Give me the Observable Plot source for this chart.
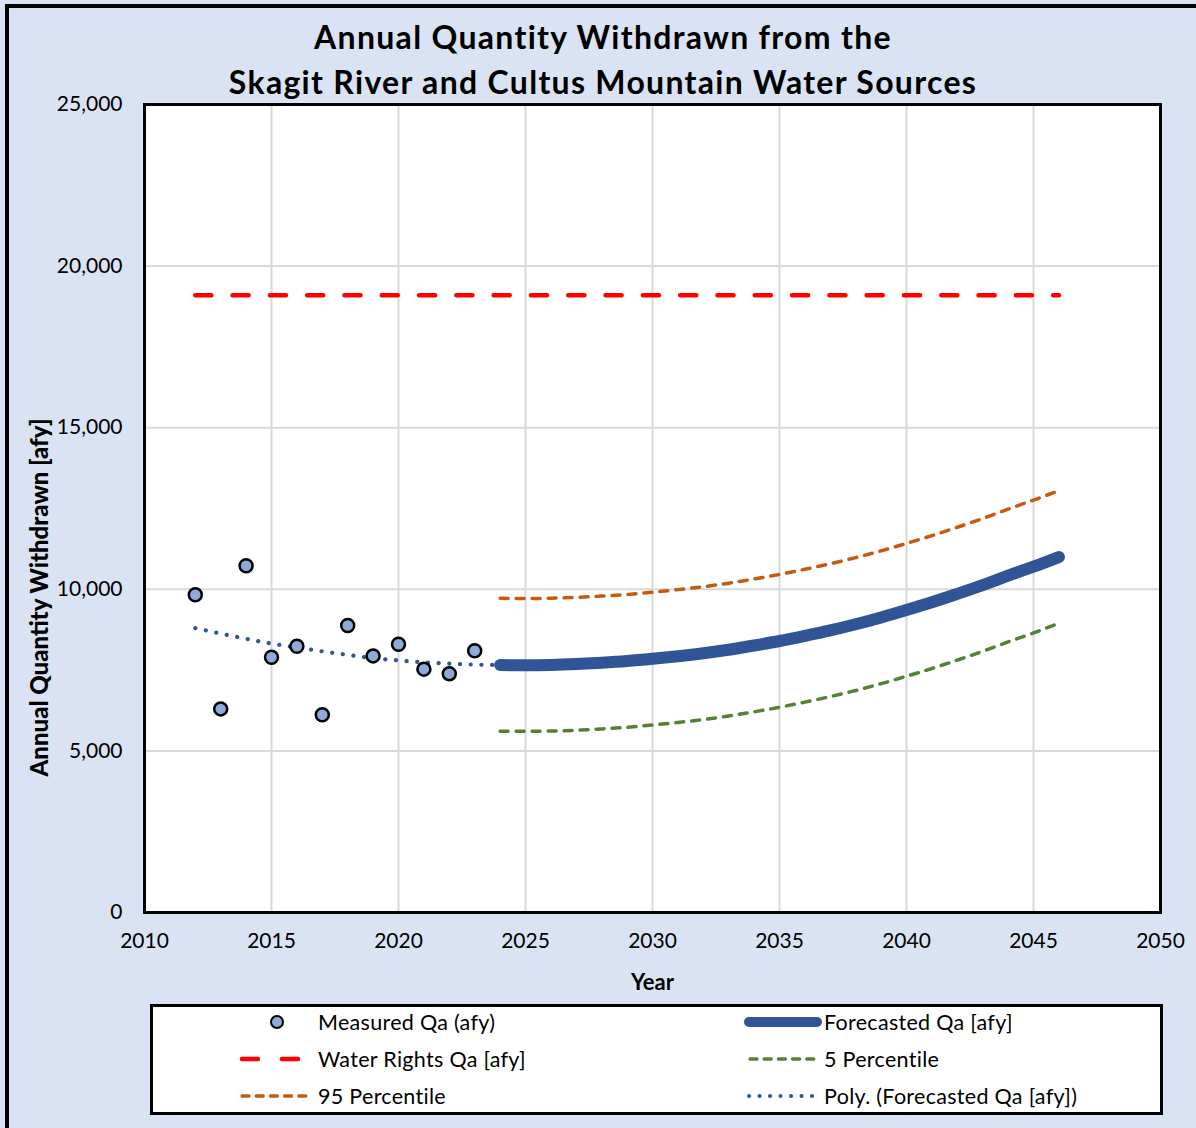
<!DOCTYPE html>
<html><head><meta charset="utf-8">
<script src="https://cdn.jsdelivr.net/npm/d3@7"></script>
<script src="https://cdn.jsdelivr.net/npm/@observablehq/plot@0.6"></script>
<style>
body{margin:0;background:#fff;}
#page{position:relative;width:1196px;height:1128px;background:#dae3f3;overflow:hidden;font-family:Lato,"Open Sans",sans-serif;color:#000;}
#edge{position:absolute;left:5px;top:4px;right:-10px;bottom:-10px;border-left:4px solid #000;border-top:4px solid #000;pointer-events:none}
#title{position:absolute;left:10px;right:0;top:14px;text-align:center;font-weight:bold;font-size:32px;letter-spacing:1.3px;line-height:45px;}
#chart{position:absolute;left:0;top:74px}
#legend{position:absolute;left:150px;top:1004px;width:1013px;height:111px;box-sizing:border-box;border:3px solid #000;background:#fff}
.li{position:absolute;height:30px;display:flex;align-items:center;font-size:21.5px;letter-spacing:0.3px;white-space:nowrap}
.li svg{flex:none}
</style>
</head><body>
<div id="page">
  <div id="title">Annual Quantity Withdrawn from the<br>Skagit River and Cultus Mountain Water Sources</div>
  <div id="chart"></div>
  <div id="legend"></div>
  <div id="edge"></div>
</div>
<script>
// ---- data ----
const measuredYears = [2012, 2013, 2014, 2015, 2016, 2017, 2018, 2019, 2020, 2021, 2022, 2023];
const measuredQa    = [9830, 6300, 10730, 7900, 8240, 6120, 8880, 7940, 8300, 7530, 7390, 8100];

const polyYears = [2012, 2013, 2014, 2015, 2016, 2017, 2018, 2019, 2020, 2021, 2022, 2023, 2024];
const polyQa    = [8800, 8630, 8470, 8320, 8200, 8080, 7970, 7870, 7800, 7740, 7700, 7670, 7655];

const forecastYears = [2024, 2025, 2026, 2027, 2028, 2029, 2030, 2031, 2032, 2033, 2034, 2035, 2036, 2037, 2038, 2039, 2040, 2041, 2042, 2043, 2044, 2045, 2046];
const forecastQa    = [7655, 7650, 7660, 7690, 7730, 7780, 7850, 7930, 8020, 8130, 8260, 8400, 8560, 8730, 8920, 9130, 9360, 9600, 9860, 10130, 10420, 10700, 11000];
const p95Qa         = [9720, 9715, 9725, 9750, 9790, 9840, 9910, 9990, 10080, 10190, 10320, 10460, 10620, 10790, 10980, 11190, 11420, 11660, 11920, 12190, 12480, 12760, 13050];
const p5Qa          = [5610, 5605, 5615, 5640, 5680, 5730, 5800, 5880, 5970, 6080, 6210, 6350, 6510, 6680, 6870, 7080, 7310, 7550, 7810, 8080, 8370, 8650, 8950];

const rightsYears = [2012, 2046];
const rightsQa    = [19100, 19100];

const xTicks = [2010, 2015, 2020, 2025, 2030, 2035, 2040, 2045, 2050];
const yTicks = [0, 5000, 10000, 15000, 20000, 25000];

const xLabel = "Year";
const yLabel = "Annual Quantity Withdrawn [afy]";

// ---- tables ----
const measured = measuredYears.map((x, i) => ({x, y: measuredQa[i]}));
const poly = polyYears.map((x, i) => ({x, y: polyQa[i]}));
const forecast = forecastYears.map((x, i) => ({x, y: forecastQa[i]}));
const p95 = forecastYears.map((x, i) => ({x, y: p95Qa[i]}));
const p5 = forecastYears.map((x, i) => ({x, y: p5Qa[i]}));
const rights = rightsYears.map((x, i) => ({x, y: rightsQa[i]}));

const BLUE = "#2f5597", RED = "#ff0000", ORANGE = "#c55a11", GREEN = "#548235", DOT = "#8eaadb";

const chart = Plot.plot({
  width: 1196, height: 928,
  marginLeft: 144, marginRight: 36, marginTop: 30, marginBottom: 90,
  style: {background: "transparent", fontFamily: "Lato, 'Open Sans', sans-serif", fontSize: "21px", color: "#000", overflow: "visible"},
  x: {domain: [2010, 2050], label: null},
  y: {domain: [0, 25000], label: null},
  marks: [
    Plot.frame({fill: "white", stroke: "none"}),
    Plot.gridX(xTicks, {stroke: "#d9d9d9", strokeOpacity: 1, strokeWidth: 2}),
    Plot.gridY(yTicks, {stroke: "#d9d9d9", strokeOpacity: 1, strokeWidth: 2}),
    Plot.axisX(xTicks, {tickSize: 0, tickPadding: 21, tickFormat: d => String(d), label: null, fontSize: 21}),
    Plot.axisY(yTicks, {tickSize: 0, tickPadding: 22, tickFormat: d3.format(","), label: null, fontSize: 21}),
    Plot.line(rights, {x: "x", y: "y", stroke: RED, strokeWidth: 4.6, strokeDasharray: "16,21.3", strokeLinecap: "round"}),
    Plot.line(p95, {x: "x", y: "y", stroke: ORANGE, strokeWidth: 3.5, strokeDasharray: "8,8", strokeLinecap: "round", curve: "natural"}),
    Plot.line(p5, {x: "x", y: "y", stroke: GREEN, strokeWidth: 3.5, strokeDasharray: "8,8", strokeLinecap: "round", curve: "natural"}),
    Plot.line(poly, {x: "x", y: "y", stroke: BLUE, strokeWidth: 4.2, strokeDasharray: "0.1,10.6", strokeLinecap: "round", curve: "natural"}),
    Plot.line(forecast, {x: "x", y: "y", stroke: BLUE, strokeWidth: 12, strokeLinecap: "round", curve: "natural"}),
    Plot.dot(measured, {x: "x", y: "y", r: 6.5, fill: DOT, stroke: "#000", strokeWidth: 2.5}),
    Plot.frame({stroke: "#000", strokeWidth: 3}),
    Plot.text([xLabel], {frameAnchor: "bottom", dy: 70, textAnchor: "middle", lineAnchor: "middle", fontWeight: "bold", fontSize: 22}),
    Plot.text([yLabel], {frameAnchor: "left", dx: -104, dy: 89, rotate: -90, textAnchor: "middle", lineAnchor: "middle", fontWeight: 900, fontSize: 24, letterSpacing: "0.9px"})
  ]
});
document.getElementById("chart").appendChild(chart);

// ---- legend ----
const legendLabels = ["Measured Qa (afy)", "Forecasted Qa [afy]", "Water Rights Qa [afy]", "5 Percentile", "95 Percentile", "Poly. (Forecasted Qa [afy])"];
const legendKinds  = ["dot", "forecast", "rights", "p5", "p95", "poly"];
const rowTop = [0, 37, 74];
const colLeft = [83, 591];
const colSym = [82, 80];
const NS = "http://www.w3.org/2000/svg";
const legend = document.getElementById("legend");
legendLabels.forEach((label, i) => {
  const col = i % 2, row = Math.floor(i / 2);
  const div = document.createElement("div");
  div.className = "li";
  div.style.left = colLeft[col] + "px";
  div.style.top = rowTop[row] + "px";
  const svg = document.createElementNS(NS, "svg");
  svg.setAttribute("width", colSym[col]);
  svg.setAttribute("height", 30);
  const k = legendKinds[i];
  let el;
  if (k === "dot") {
    el = document.createElementNS(NS, "circle");
    el.setAttribute("cx", 41); el.setAttribute("cy", 15); el.setAttribute("r", 6);
    el.setAttribute("fill", DOT); el.setAttribute("stroke", "#000"); el.setAttribute("stroke-width", 2);
  } else {
    el = document.createElementNS(NS, "line");
    el.setAttribute("y1", 15); el.setAttribute("y2", 15);
    const spec = {
      forecast: [5, 73, BLUE, 10, null, "round"],
      rights:   [6, 62, RED, 4.6, "16,24", "round"],
      p5:       [6, 76, GREEN, 3.4, "7,7.2", "round"],
      p95:      [6, 76, ORANGE, 3.4, "7,7.2", "round"],
      poly:     [5, 76, BLUE, 4, "0.1,10.4", "round"]
    }[k];
    el.setAttribute("x1", spec[0]); el.setAttribute("x2", spec[1]);
    el.setAttribute("stroke", spec[2]); el.setAttribute("stroke-width", spec[3]);
    if (spec[4]) el.setAttribute("stroke-dasharray", spec[4]);
    el.setAttribute("stroke-linecap", spec[5]);
  }
  svg.appendChild(el);
  div.appendChild(svg);
  const span = document.createElement("span");
  span.textContent = label;
  div.appendChild(span);
  legend.appendChild(div);
});
</script>
</body></html>
